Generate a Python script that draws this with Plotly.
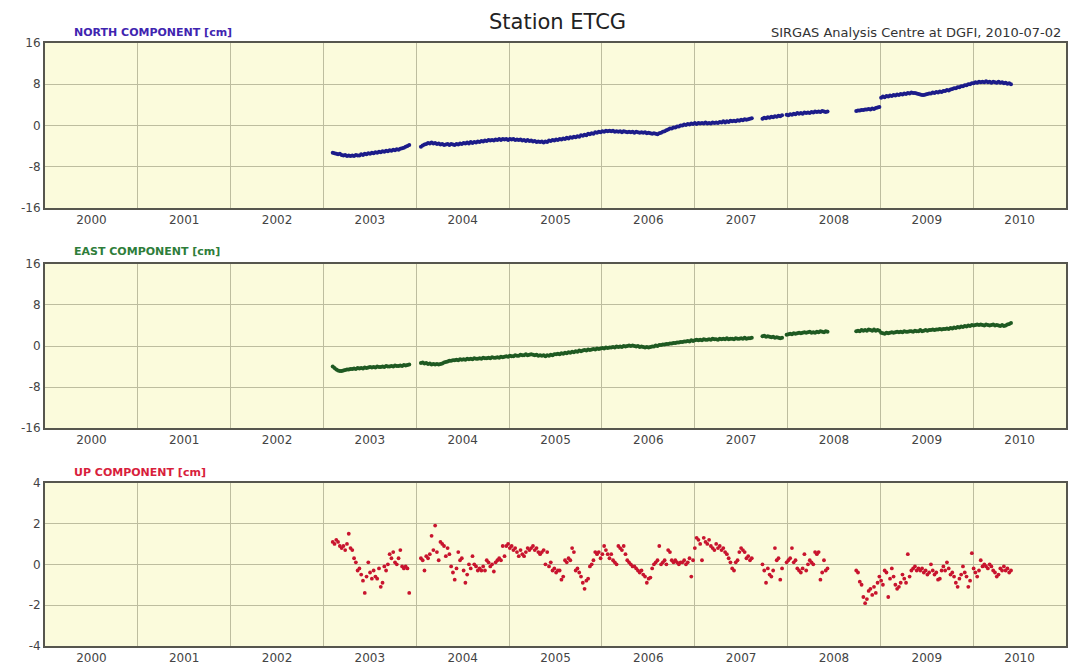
import plotly.graph_objects as go

# Weekly station coordinate solutions (cm), split into continuous observation spans
WEEK = 7 / 365.25
SEG_START = [2003.10, 2004.05, 2007.73, 2007.99, 2008.74]

YEARS = list(range(2000, 2011))
YEAR_LABELS = [str(y) for y in YEARS]

north_s1 = [-5.3, -5.4, -5.5, -5.6, -5.5, -5.7, -5.8, -5.7, -5.9, -5.8,
            -5.9, -5.8, -5.9, -5.7, -5.8, -5.8, -5.6, -5.7, -5.5, -5.6,
            -5.4, -5.5, -5.3, -5.4, -5.2, -5.3, -5.1, -5.2, -5.0, -5.1,
            -4.9, -5.0, -4.8, -4.9, -4.7, -4.8, -4.6, -4.7, -4.5, -4.4,
            -4.3, -4.1, -4.0, -3.8]
north_s2 = [-4.1, -3.9, -3.7, -3.6, -3.4, -3.5, -3.3, -3.5, -3.4, -3.6,
            -3.5, -3.7, -3.6, -3.8, -3.7, -3.6, -3.8, -3.6, -3.7, -3.8,
            -3.6, -3.7, -3.5, -3.6, -3.4, -3.5, -3.3, -3.5, -3.2, -3.4,
            -3.2, -3.3, -3.1, -3.2, -3.0, -3.1, -2.9, -3.0, -2.8, -2.9,
            -2.8, -2.9, -2.7, -2.8, -2.6, -2.8, -2.6, -2.7, -2.6, -2.8,
            -2.6, -2.7, -2.6, -2.8, -2.7, -2.8, -2.7, -2.9, -2.8, -3.0,
            -2.8, -3.0, -2.9, -3.1, -3.0, -3.2, -3.1, -3.2, -3.1, -3.3,
            -3.1, -3.2, -2.9, -3.0, -2.8, -2.9, -2.7, -2.8, -2.6, -2.7,
            -2.5, -2.6, -2.4, -2.5, -2.3, -2.4, -2.2, -2.3, -2.1, -2.2,
            -1.9, -2.0, -1.8, -1.9, -1.6, -1.7, -1.5, -1.6, -1.3, -1.4,
            -1.2, -1.3, -1.1, -1.2, -1.0, -1.1, -1.0, -1.1, -1.0, -1.2,
            -1.1, -1.2, -1.1, -1.3, -1.1, -1.2, -1.3, -1.2, -1.3, -1.2,
            -1.4, -1.2, -1.3, -1.4, -1.3, -1.4, -1.3, -1.5, -1.4, -1.5,
            -1.6, -1.5, -1.6, -1.7, -1.5, -1.4, -1.2, -1.1, -0.9, -0.8,
            -0.6, -0.6, -0.4, -0.4, -0.2, -0.2, 0.0, 0.0, 0.2, 0.1,
            0.3, 0.2, 0.4, 0.3, 0.5, 0.3, 0.5, 0.4, 0.5, 0.4,
            0.6, 0.4, 0.5, 0.4, 0.6, 0.5, 0.6, 0.5, 0.7, 0.6,
            0.8, 0.6, 0.8, 0.7, 0.9, 0.8, 0.9, 0.8, 1.0, 0.9,
            1.1, 1.0, 1.2, 1.1, 1.2, 1.3, 1.4]
north_s3 = [1.3, 1.5, 1.4, 1.6, 1.5, 1.7, 1.6, 1.8, 1.7, 1.9, 1.8, 2.0]
north_s4 = [2.1, 2.0, 2.2, 2.1, 2.3, 2.2, 2.4, 2.3, 2.4, 2.3, 2.5, 2.4,
            2.5, 2.4, 2.6, 2.5, 2.7, 2.6, 2.7, 2.6, 2.8, 2.7, 2.6, 2.7]
north_s5 = [2.8, 2.9, 2.9, 3.0, 3.0, 3.1, 3.1, 3.2, 3.1, 3.3,
            3.2, 3.4, 3.5, 3.6,
            5.4, 5.6, 5.5, 5.7, 5.6, 5.8,
            5.7, 5.9, 5.8, 6.0, 5.9, 6.1, 6.0, 6.2, 6.1, 6.3,
            6.2, 6.4, 6.3, 6.3, 6.2, 6.1, 6.0, 5.9, 5.9, 6.0,
            6.1, 6.2, 6.2, 6.4, 6.3, 6.5, 6.4, 6.6, 6.5, 6.7,
            6.7, 6.9, 6.8, 7.0, 7.1, 7.2, 7.2, 7.4, 7.4, 7.6,
            7.6, 7.8, 7.8, 8.0, 8.0, 8.2, 8.2, 8.4, 8.3, 8.5,
            8.4, 8.5, 8.4, 8.6, 8.4, 8.5, 8.3, 8.5, 8.4, 8.3,
            8.5, 8.3, 8.4, 8.2, 8.3, 8.1, 8.2, 8.0]

east_s1 = [-4.0, -4.3, -4.6, -4.8, -4.9, -4.9, -4.8, -4.7, -4.6, -4.6,
           -4.5, -4.5, -4.4, -4.5, -4.3, -4.4, -4.3, -4.4, -4.2, -4.3,
           -4.2, -4.1, -4.2, -4.1, -4.2, -4.0, -4.1, -4.1, -4.0, -4.1,
           -3.9, -4.0, -4.0, -3.9, -4.0, -3.8, -3.9, -3.9, -3.8, -3.9,
           -3.7, -3.8, -3.7, -3.6]
east_s2 = [-3.3, -3.2, -3.4, -3.3, -3.5, -3.4, -3.6, -3.5, -3.6, -3.5,
           -3.6, -3.5, -3.4, -3.2, -3.1, -3.0, -2.9, -2.9, -2.8, -2.8,
           -2.7, -2.8, -2.6, -2.7, -2.6, -2.7, -2.5, -2.6, -2.5, -2.6,
           -2.4, -2.5, -2.5, -2.4, -2.5, -2.3, -2.4, -2.4, -2.3, -2.4,
           -2.2, -2.3, -2.3, -2.2, -2.3, -2.1, -2.2, -2.1, -2.0, -2.1,
           -1.9, -2.0, -2.0, -1.8, -1.9, -1.9, -1.7, -1.8, -1.8, -1.6,
           -1.8, -1.7, -1.6, -1.7, -1.8, -1.7, -1.9, -1.8, -1.9, -1.8,
           -2.0, -1.8, -1.9, -1.7, -1.8, -1.6, -1.6, -1.5, -1.6, -1.4,
           -1.5, -1.3, -1.4, -1.2, -1.3, -1.1, -1.2, -1.0, -1.1, -0.9,
           -1.0, -0.9, -0.8, -0.9, -0.7, -0.8, -0.7, -0.6, -0.7, -0.5,
           -0.6, -0.5, -0.4, -0.5, -0.3, -0.4, -0.3, -0.3, -0.2, -0.3,
           -0.1, -0.2, -0.1, -0.2, 0.0, -0.1, 0.0, 0.1, 0.0, 0.1,
           0.0, -0.1, 0.0, -0.2, -0.1, -0.2, -0.3, -0.2, -0.3, -0.2,
           -0.1, -0.1, 0.1, 0.0, 0.2, 0.2, 0.3, 0.3, 0.4, 0.4,
           0.5, 0.5, 0.6, 0.6, 0.7, 0.7, 0.8, 0.8, 0.9, 0.9,
           1.0, 0.9, 1.1, 1.0, 1.1, 1.2, 1.1, 1.2, 1.1, 1.3,
           1.2, 1.2, 1.3, 1.2, 1.4, 1.3, 1.3, 1.2, 1.4, 1.3,
           1.4, 1.3, 1.5, 1.3, 1.4, 1.4, 1.3, 1.5, 1.4, 1.4,
           1.5, 1.4, 1.6, 1.4, 1.5, 1.5, 1.6]
east_s3 = [1.9, 2.0, 1.8, 1.9, 1.8, 1.7, 1.8, 1.6, 1.7, 1.6, 1.5, 1.6]
east_s4 = [2.2, 2.3, 2.4, 2.3, 2.5, 2.4, 2.5, 2.6, 2.5, 2.6, 2.7, 2.6,
           2.7, 2.8, 2.6, 2.7, 2.6, 2.8, 2.7, 2.9, 2.8, 2.7, 2.9, 2.8]
east_s5 = [2.9, 3.0, 2.9, 3.1, 3.0, 3.1, 3.0, 3.2, 3.1, 3.0,
           3.2, 3.0, 3.1, 3.0,
           2.6, 2.5, 2.4, 2.6, 2.5, 2.6,
           2.7, 2.6, 2.7, 2.8, 2.7, 2.8, 2.7, 2.9, 2.8, 2.8,
           2.9, 2.9, 2.8, 3.0, 2.9, 2.9, 3.1, 2.9, 3.0, 3.1,
           3.0, 3.1, 3.1, 3.2, 3.1, 3.2, 3.2, 3.3, 3.2, 3.3,
           3.3, 3.4, 3.3, 3.5, 3.4, 3.6, 3.5, 3.7, 3.6, 3.8,
           3.7, 3.9, 3.8, 4.0, 3.9, 4.1, 4.0, 4.1, 4.2, 4.1,
           4.2, 4.1, 4.0, 4.2, 4.1, 4.0, 4.1, 4.2, 4.0, 4.1,
           4.0, 3.9, 4.1, 3.9, 4.0, 4.2, 4.3, 4.5]

up_s1 = [1.1, 1.0, 1.2, 1.1, 0.9, 0.8, 0.9, 0.7, 1.0, 1.5,
         0.8, 0.7, 0.3, 0.1, -0.3, -0.2, -0.5, -0.8, -1.4, -0.6,
         0.1, -0.4, -0.7, -0.3, -0.6, -0.7, -0.2, -1.1, -0.9, -0.1,
         -0.3, 0.0, 0.5, 0.3, 0.6, 0.1, 0.0, 0.3, 0.7, -0.1,
         -0.2, -0.1, -0.2, -1.4]
up_s2 = [0.3, 0.2, -0.3, 0.4, 0.3, 0.5, 1.4, 0.7, 1.9, 0.6,
         0.2, 1.1, 1.0, 0.9, 0.4, 0.8, 0.5, -0.1, -0.4, -0.75,
         -0.2, 0.6, 0.2, 0.3, -0.3, -0.9, -0.5, 0.0, -0.2, 0.4,
         0.0, -0.1, -0.3, -0.2, -0.3, -0.1, -0.3, 0.2, 0.1, -0.1,
         0.0, -0.35, 0.1, 0.2, 0.3, 0.2, 0.9, 0.4, 0.9, 1.0,
         0.8, 0.9, 0.7, 0.8, 0.6, 0.4, 0.7, 0.5, 0.4, 0.6,
         0.8, 0.7, 0.8, 0.9, 0.7, 0.8, 0.6, 0.5, 0.6, 0.7,
         0.0, 0.6, -0.1, 0.1, -0.3, -0.2, -0.4, -0.3, -0.3, -0.75,
         -0.6, 0.2, 0.1, 0.3, 0.2, 0.8, 0.6, -0.3, -0.2, -0.4,
         -0.6, -0.9, -1.2, -0.8, -0.7, -0.1, 0.0, 0.2, 0.6, 0.5,
         0.6, 0.3, 0.5, 0.9, 0.7, 0.5, 0.3, 0.5, 0.2, 0.1,
         0.0, 0.9, 0.8, 0.7, 0.9, 0.5, 0.2, 0.1, 0.0, -0.1,
         -0.1, -0.2, -0.3, -0.4, -0.3, -0.5, -0.6, -0.9, -0.7, -0.65,
         -0.2, 0.0, 0.1, 0.2, 0.9, 0.0, 0.1, 0.2, 0.0, 0.7,
         0.6, 0.2, 0.1, 0.2, 0.1, 0.0, 0.1, 0.1, 0.2, 0.0,
         0.1, 0.3, -0.6, 0.2, 0.8, 1.3, 1.2, 1.0, 0.2, 1.3,
         1.1, 1.0, 1.2, 0.9, 0.8, 0.7, 1.0, 0.8, 0.9, 0.7,
         0.8, 0.6, 0.5, 0.3, 0.1, -0.2, -0.3, 0.1, 0.2, 0.6,
         0.8, 0.7, 0.6, 0.3, 0.4, 0.2, 0.3]
up_s3 = [0.0, -0.3, -0.9, -0.2, -0.5, -0.6, -0.3, 0.8, 0.2, 0.3, -0.75, -0.2]
up_s4 = [0.1, 0.2, 0.3, 0.8, 0.1, 0.2, -0.2, -0.3, -0.4, -0.2, 0.5, -0.3,
         0.0, 0.2, 0.1, 0.0, 0.6, 0.5, 0.6, -0.75, -0.4, 0.2, -0.3, -0.2]
up_s5 = [-0.3, -0.4, -0.85, -1.0, -1.6, -1.9, -1.7, -1.3, -1.2, -1.5,
         -1.1, -1.4, -0.9, -0.6, -0.8, -1.0, -0.3, -0.4, -1.6, -0.7,
         -0.2, -0.6, -1.0, -1.2, -1.1, -0.9, -0.5, -0.7, -0.9, 0.5,
         -0.6, -0.3, -0.2, -0.1, -0.3, -0.2, -0.3, -0.2, -0.4, -0.3,
         -0.5, -0.4, 0.0, -0.3, -0.5, -0.4, -0.75, -0.7, -0.3, -0.1,
         -0.3, 0.1, -0.2, -0.5, -0.4, -0.6, -0.9, -1.1, -0.7, -0.5,
         -0.1, -0.4, -0.6, -1.1, -0.8, 0.55, -0.2, -0.4, -0.6, -0.3,
         0.2, -0.1, 0.0, -0.1, -0.2, 0.0, -0.1, -0.3, -0.4, -0.6,
         -0.5, -0.2, -0.3, -0.1, -0.3, -0.2, -0.4, -0.3]


def series(segments):
    """Concatenate weekly spans into (epoch, value) arrays."""
    xs, ys = [], []
    for start, vals in zip(SEG_START, segments):
        xs.extend(start + WEEK * i for i in range(len(vals)))
        ys.extend(vals)
    return xs, ys


north_x, north_y = series([north_s1, north_s2, north_s3, north_s4, north_s5])
east_x, east_y = series([east_s1, east_s2, east_s3, east_s4, east_s5])
up_x, up_y = series([up_s1, up_s2, up_s3, up_s4, up_s5])

NORTH_COLOR = "#1c1c8a"
EAST_COLOR = "#1f5a22"
UP_COLOR = "#c8142e"
BG = "#fbfbdc"
GRID = "#bdbd9f"
FRAME = "#56564e"
TXT = "#444444"
FONT = "DejaVu Sans, Arial, sans-serif"

fig = go.Figure()
fig.add_trace(go.Scatter(x=north_x, y=north_y, mode="markers", xaxis="x", yaxis="y",
                         marker=dict(size=4, color=NORTH_COLOR), showlegend=False))
fig.add_trace(go.Scatter(x=east_x, y=east_y, mode="markers", xaxis="x2", yaxis="y2",
                         marker=dict(size=4, color=EAST_COLOR), showlegend=False))
fig.add_trace(go.Scatter(x=up_x, y=up_y, mode="markers", xaxis="x3", yaxis="y3",
                         marker=dict(size=3.8, color=UP_COLOR), showlegend=False))


def xaxis(anchor):
    return dict(
        anchor=anchor, range=[2000, 2011], domain=[0, 1], automargin=False,
        tickmode="array", tickvals=[y + 0.5 for y in YEARS], ticktext=YEAR_LABELS,
        ticks="", showgrid=False, zeroline=False,
        minor=dict(tick0=2000, dtick=1, showgrid=True, gridcolor=GRID, gridwidth=1, ticks=""),
        showline=True, linecolor=FRAME, linewidth=2, mirror=True,
        tickfont=dict(family=FONT, size=12, color=TXT),
        fixedrange=True,
    )


def yaxis(anchor, dom, lim, step):
    vals = list(range(-lim, lim + 1, step))
    return dict(
        anchor=anchor, domain=dom, range=[-lim, lim], automargin=False,
        tickmode="array", tickvals=vals, ticktext=[str(v) for v in vals],
        ticks="", showgrid=True, gridcolor=GRID, gridwidth=1, zeroline=False,
        showline=True, linecolor=FRAME, linewidth=2, mirror=True,
        tickfont=dict(family=FONT, size=12, color=TXT),
        fixedrange=True,
    )


fig.update_layout(
    width=1079, height=667,
    margin=dict(l=45, r=13, t=43, b=21),
    paper_bgcolor="white", plot_bgcolor=BG,
    xaxis=xaxis("y"), yaxis=yaxis("x", [0.7264, 1.0], 16, 8),
    xaxis2=xaxis("y2"), yaxis2=yaxis("x2", [0.3615, 0.6335], 16, 8),
    xaxis3=xaxis("y3"), yaxis3=yaxis("x3", [0.0, 0.2708], 4, 2),
    annotations=[
        dict(text="Station ETCG", x=0.5015, y=1.0348, xref="paper", yref="paper",
             xanchor="center", yanchor="middle", showarrow=False,
             font=dict(family=FONT, size=21, color="#222222")),
        dict(text="SIRGAS Analysis Centre at DGFI, 2010-07-02", x=0.997, y=1.0166,
             xref="paper", yref="paper", xanchor="right", yanchor="middle", showarrow=False,
             font=dict(family=FONT, size=13, color="#333333")),
        dict(text="<b>NORTH COMPONENT [cm]</b>", x=0.026, y=1.0166, xref="paper", yref="paper",
             xanchor="left", yanchor="middle", showarrow=False,
             font=dict(family=FONT, size=11, color="#3f25b0")),
        dict(text="<b>EAST COMPONENT [cm]</b>", x=0.026, y=0.6534, xref="paper", yref="paper",
             xanchor="left", yanchor="middle", showarrow=False,
             font=dict(family=FONT, size=11, color="#2e7d3a")),
        dict(text="<b>UP COMPONENT [cm]</b>", x=0.026, y=0.2874, xref="paper", yref="paper",
             xanchor="left", yanchor="middle", showarrow=False,
             font=dict(family=FONT, size=11, color="#d81e3c")),
    ],
)

fig.write_html("out.html")
